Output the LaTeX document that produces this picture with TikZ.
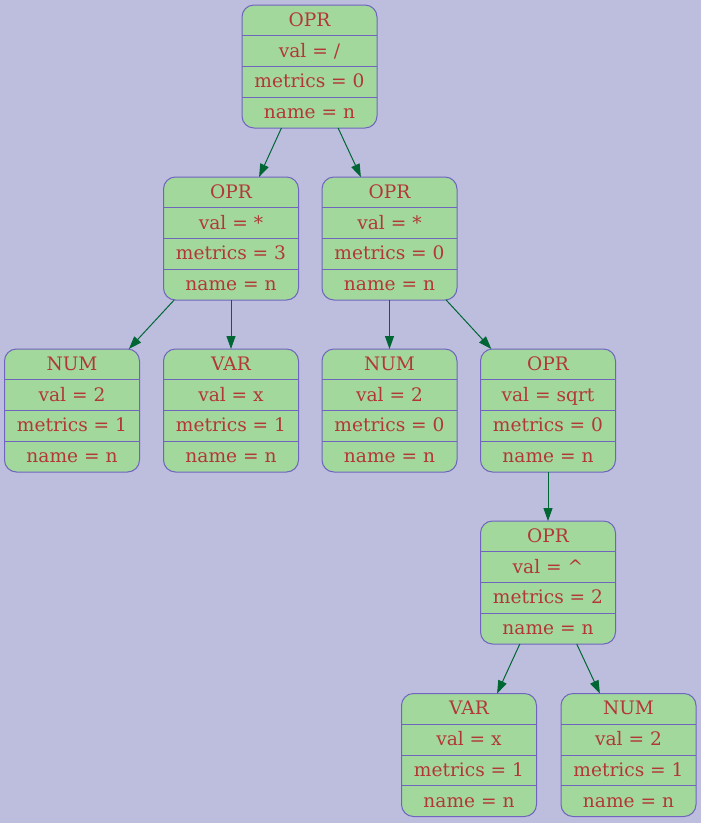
\documentclass[tikz,border=0pt]{standalone}
\usepackage{fontspec}
\setmainfont{DejaVu Serif}
\usetikzlibrary{arrows.meta,calc}
\definecolor{bgcol}{RGB}{189,189,222}
\definecolor{boxfill}{RGB}{162,216,156}
\definecolor{boxline}{RGB}{112,100,190}
\definecolor{txtcol}{RGB}{178,56,56}
\definecolor{edgecol}{RGB}{0,102,52}
\tikzset{
  recshape/.style={draw=boxline, fill=boxfill, line width=1pt, rounded corners=12pt,
    minimum width=135pt, minimum height=123pt, inner sep=0pt, outer sep=0pt},
  recline/.style={draw=boxline, line width=1pt},
  rectext/.style={text=txtcol, anchor=base, inner sep=0pt,
    font=\fontsize{18.6}{20}\selectfont},
  edge/.style={draw=edgecol, line width=1pt,
    -{Triangle[length=13pt,width=9pt,fill=edgecol]}}
}
% record node: name, centre x, top y, four field texts
\newcommand\recbox[7]{%
  \node[recshape] (#1) at (#2,#3+61.5) {};
  \draw[recline] ($(#1.north west)+(0,30.75)$) -- ($(#1.north east)+(0,30.75)$);
  \draw[recline] ($(#1.north west)+(0,61.5)$) -- ($(#1.north east)+(0,61.5)$);
  \draw[recline] ($(#1.north west)+(0,92.25)$) -- ($(#1.north east)+(0,92.25)$);
  \node[rectext] (#1-f1) at (#2,#3+15.4+6) {#4};
  \node[rectext] (#1-f2) at (#2,#3+46.1+6) {#5};
  \node[rectext] (#1-f3) at (#2,#3+76.9+6) {#6};
  \node[rectext] (#1-f4) at (#2,#3+107.6+6) {#7};
}
\begin{document}
\begin{tikzpicture}[x=1pt,y=-1pt]
\fill[bgcol] (0,0) rectangle (701,823);
\useasboundingbox (0,0) rectangle (701,823);

\recbox{root}{309.5}{5}{OPR}{val = /}{metrics = 0}{name = n}
\recbox{mulA}{231}{177}{OPR}{val = *}{metrics = 3}{name = n}
\recbox{mulB}{389.5}{177}{OPR}{val = *}{metrics = 0}{name = n}
\recbox{numA}{72}{349}{NUM}{val = 2}{metrics = 1}{name = n}
\recbox{varA}{231}{349}{VAR}{val = x}{metrics = 1}{name = n}
\recbox{numB}{389.5}{349}{NUM}{val = 2}{metrics = 0}{name = n}
\recbox{sqrtN}{548}{349}{OPR}{val = sqrt}{metrics = 0}{name = n}
\recbox{powN}{548}{521}{OPR}{val = \textasciicircum}{metrics = 2}{name = n}
\recbox{varB}{469}{693.5}{VAR}{val = x}{metrics = 1}{name = n}
\recbox{numC}{628.5}{693.5}{NUM}{val = 2}{metrics = 1}{name = n}

\draw[edge] (root) -- (mulA);
\draw[edge] (root) -- (mulB);
\draw[edge] (mulA) -- (numA);
\draw[edge] (mulA) -- (varA);
\draw[edge] (mulB) -- (numB);
\draw[edge] (mulB) -- (sqrtN);
\draw[edge] (sqrtN) -- (powN);
\draw[edge] (powN) -- (varB);
\draw[edge] (powN) -- (numC);
\end{tikzpicture}
\end{document}
